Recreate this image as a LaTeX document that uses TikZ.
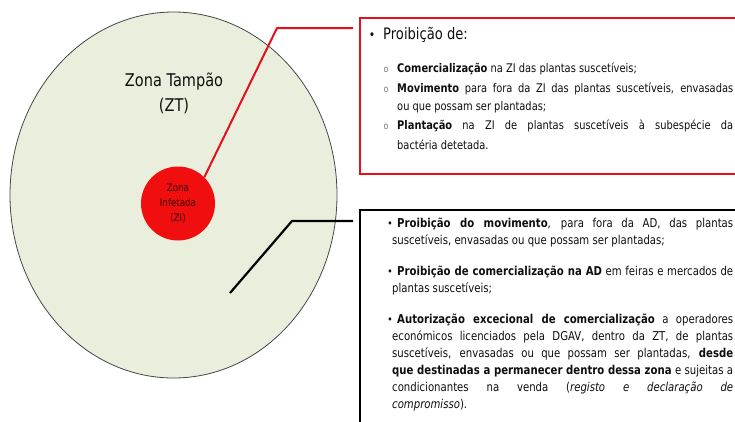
\documentclass[tikz,border=0pt]{standalone}
\usepackage{fontspec}
\setmainfont{DejaVu Sans}[FakeStretch=0.83]
\usetikzlibrary{shapes.geometric}
\definecolor{ztfill}{RGB}{234,239,221}
\definecolor{ztline}{RGB}{70,70,70}
\definecolor{zired}{RGB}{240,14,14}
\definecolor{zitext}{RGB}{55,0,0}
\definecolor{boxred}{RGB}{228,16,28}
\definecolor{txtc}{RGB}{15,15,15}
\definecolor{subbul}{RGB}{120,120,120}
\begin{document}
\begin{tikzpicture}[x=1pt,y=-1pt,
  txt/.style={anchor=base west, inner sep=0pt, text=txtc, font=\fontsize{11.9}{13}\selectfont},
  btxt/.style={txt, font=\fontsize{12.2}{13}\selectfont},
  subbullet/.style={anchor=base, inner sep=0pt, text=subbul, font=\fontsize{9.5}{10}\selectfont},
  bigbullet/.style={anchor=base, inner sep=0pt, text=txtc, font=\fontsize{13}{13}\selectfont},
  smallbullet/.style={anchor=base, inner sep=0pt, text=txtc, font=\fontsize{11}{12}\selectfont},
  redconn/.style={draw=boxred, line width=2pt},
  blkconn/.style={draw=black, line width=2.2pt},
]
\useasboundingbox (0,0) rectangle (735,421);
\clip (0,0) rectangle (735,421);
\fill[white] (0,0) rectangle (735,421);

% zones
\node (zt) [ellipse, draw=ztline, line width=0.8pt, fill=ztfill, minimum width=327pt, minimum height=366pt, inner sep=0pt] at (173.5,195) {};
\node (ztl) [align=center, font=\fontsize{17.5}{25}\selectfont, text=txtc] at (174,93) {Zona Tampão\\(ZT)};
\node (zi) [circle, fill=zired, minimum size=74pt, inner sep=0pt, align=center, text=zitext, font=\fontsize{10.5}{15}\selectfont] at (178,203.5) {Zona\\Infetada\\(ZI)};

% boxes
\node (rbox) [draw=boxred, line width=2.2pt, fill=white, anchor=north west, minimum width=392pt, minimum height=156pt, inner sep=0pt] at (359,17) {};
\node (bbox) [draw=black, line width=2pt, fill=white, anchor=north west, minimum width=392pt, minimum height=240pt, inner sep=0pt] at (359,209) {};

% connectors
\coordinate (rk) at (277,28);
\coordinate (rend) at (353,28);
\draw[redconn] (zi.45) -- (rk) -- (rend);
\coordinate (bs) at (230,293);
\coordinate (bk) at (292,221);
\coordinate (bend) at (353,221);
\draw[blkconn] (bs) -- (bk) -- (bend);

% red box text
\node[bigbullet] (hb) at (372,39) {•};
\node[txt, font=\fontsize{15.8}{16}\selectfont] (h1) at (383,39) {Proibição de:};

\node[subbullet] (s1) at (386,72) {o};
\node[txt] (r1) at (397,72) {\textbf{Comercialização} na ZI das plantas suscetíveis;};
\node[subbullet] (s2) at (386,92) {o};
\node[txt] (r2) at (397,92) {\makebox[336pt][s]{\textbf{Movimento} para fora da ZI das plantas suscetíveis, envasadas}};
\node[txt] (r3) at (397,110) {ou que possam ser plantadas;};
\node[subbullet] (s3) at (386,129) {o};
\node[txt] (r4) at (397,129) {\makebox[336pt][s]{\textbf{Plantação} na ZI de plantas suscetíveis à subespécie da}};
\node[txt] (r5) at (397,149) {bactéria detetada.};

% black box text
\node[smallbullet] (bb1) at (390,227) {•};
\node[btxt] (b1) at (397,227) {\makebox[336pt][s]{\textbf{Proibição do movimento}, para fora da AD, das plantas}};
\node[btxt] (b2) at (392,244) {suscetíveis, envasadas ou que possam ser plantadas;};

\node[smallbullet] (bb2) at (390,275) {•};
\node[btxt] (b3) at (397,275) {\makebox[336pt][s]{\textbf{Proibição de comercialização na AD} em feiras e mercados de}};
\node[btxt] (b4) at (392,292) {plantas suscetíveis;};

\node[smallbullet] (bb3) at (390,323) {•};
\node[btxt] (b5) at (397,323) {\makebox[336pt][s]{\textbf{Autorização excecional de comercialização} a operadores}};
\node[btxt] (b6) at (392,340) {\makebox[341pt][s]{económicos licenciados pela DGAV, dentro da ZT, de plantas}};
\node[btxt] (b7) at (392,357) {\makebox[341pt][s]{suscetíveis, envasadas ou que possam ser plantadas, \textbf{desde}}};
\node[btxt] (b8) at (392,374) {\makebox[341pt][s]{\textbf{que destinadas a permanecer dentro dessa zona} e sujeitas a}};
\node[btxt] (b9) at (392,391) {\makebox[341pt][s]{condicionantes na venda (\textit{registo e declaração de}}};
\node[btxt] (b10) at (392,408) {\textit{compromisso}).};
\end{tikzpicture}
\end{document}
